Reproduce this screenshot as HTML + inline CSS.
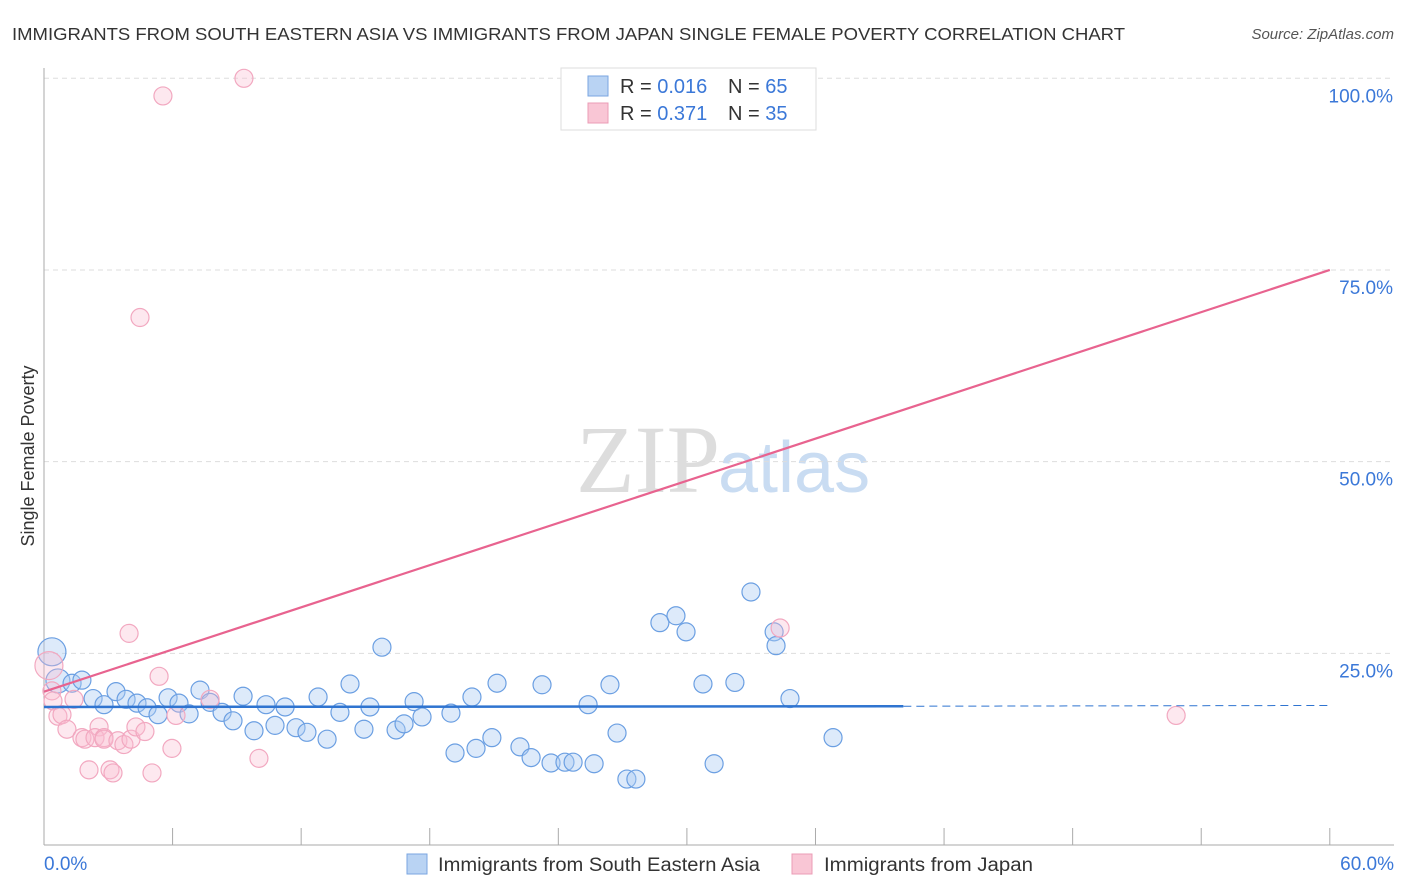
<!DOCTYPE html>
<html><head><meta charset="utf-8">
<style>
body{margin:0;background:#fff;font-family:"Liberation Sans",sans-serif;}
#wrap{position:relative;width:1406px;height:892px;overflow:hidden;}
</style></head>
<body>
<div id="wrap">
<svg id="svg" width="1406" height="892" xmlns="http://www.w3.org/2000/svg">
<text x="12" y="40" font-size="17.5" fill="#333" textLength="1113" lengthAdjust="spacingAndGlyphs">IMMIGRANTS FROM SOUTH EASTERN ASIA VS IMMIGRANTS FROM JAPAN SINGLE FEMALE POVERTY CORRELATION CHART</text>
<text x="1394" y="39" font-size="15" fill="#555" font-style="italic" text-anchor="end">Source: ZipAtlas.com</text>
<text x="720" y="492" font-size="96" fill="#ddd" text-anchor="end" font-family="Liberation Serif,serif">ZIP</text>
<text x="718" y="492" font-size="72" fill="#c9dcf2">atlas</text>
<text transform="translate(34,456) rotate(-90)" font-size="18" fill="#333" text-anchor="middle">Single Female Poverty</text>
<g id="grid"></g><g id="axes"></g><g id="pts"></g><g id="lines"></g>
<g>
<rect x="561" y="68" width="255" height="62" fill="#fff" stroke="#ddd"/>
<rect x="588" y="76" width="20" height="20" fill="#b9d3f3" stroke="#7aa6e0"/>
<rect x="588" y="103" width="20" height="20" fill="#f9c6d5" stroke="#eb9cb6"/>
<text x="620" y="93" font-size="20" fill="#333">R = <tspan fill="#3b78d8">0.016</tspan><tspan x="728">N = </tspan><tspan fill="#3b78d8">65</tspan></text>
<text x="620" y="120" font-size="20" fill="#333">R = <tspan fill="#3b78d8">0.371</tspan><tspan x="728">N = </tspan><tspan fill="#3b78d8">35</tspan></text>
</g>
<g>
<rect x="407" y="854" width="20" height="20" fill="#b9d3f3" stroke="#7aa6e0"/>
<text x="438" y="871" font-size="19" fill="#333" textLength="322" lengthAdjust="spacingAndGlyphs">Immigrants from South Eastern Asia</text>
<rect x="792" y="854" width="20" height="20" fill="#f9c6d5" stroke="#eb9cb6"/>
<text x="824" y="871" font-size="19" fill="#333" textLength="209" lengthAdjust="spacingAndGlyphs">Immigrants from Japan</text>
</g>
</svg>
</div>
<script>
const xTicks=[0,60];
const yTicks=[25,50,75,100];
const seaX=[0.37,0.65,1.31,1.77,2.29,2.8,3.36,3.83,4.34,4.81,5.32,5.79,6.3,6.77,7.28,7.75,8.31,8.82,9.29,9.8,10.36,10.78,11.25,11.76,12.27,12.79,13.21,13.81,14.28,14.93,15.21,15.77,16.43,16.8,17.27,17.64,18.99,19.18,19.97,20.16,20.9,21.14,22.21,22.73,23.24,23.66,24.31,24.69,25.39,25.67,26.41,26.74,27.2,27.62,28.74,29.49,29.96,30.75,31.27,32.24,32.99,34.07,34.16,34.81,36.82];
const seaY=[25.2,21.4,21.1,21.5,19.1,18.3,20,19,18.5,17.9,17,19.2,18.5,17.1,20.2,18.6,17.3,16.2,19.4,14.9,18.3,15.6,18,15.3,14.7,19.3,13.8,17.3,21,15.1,18,25.8,15,15.8,18.7,16.7,17.2,12,19.3,12.6,14,21.1,12.8,11.4,20.9,10.7,10.8,10.8,18.3,10.6,20.9,14.6,8.6,8.6,29,29.9,27.8,21,10.6,21.2,33,27.8,26,19.1,14];
const jpX=[5.55,9.33,4.48,3.97,5.37,0.23,0.37,0.42,0.65,0.84,1.07,1.4,1.77,1.91,2.57,2.38,2.8,3.08,2.8,3.22,2.1,3.45,3.73,4.06,4.29,4.71,5.04,5.97,6.16,7.75,10.03,34.35,52.83,28.56,31.64];
const jpY=[97.7,100,68.8,27.6,22,23.4,20.1,18.8,16.8,17,15.1,19,14,13.8,15.4,14,14,9.8,13.8,9.4,9.8,13.6,13.1,13.8,15.4,14.8,9.4,12.6,16.9,19,11.3,28.3,16.9,100,100];
const sx=v=>44+v*21.43, sy=v=>845-v*7.667;
const NS='http://www.w3.org/2000/svg';
function mk(tag,attrs,parent){const e=document.createElementNS(NS,tag);for(const k in attrs)e.setAttribute(k,attrs[k]);document.getElementById(parent).appendChild(e);return e;}
yTicks.forEach(t=>{
 const l=mk('line',{x1:44,x2:1394,y1:sy(t),y2:sy(t),stroke:'#ddd','stroke-dasharray':'5,4'},'grid');
 
 
 const tx=mk('text',{x:1393,y:sy(t)+24,'font-size':19,fill:'#3b78d8','text-anchor':'end'},'grid');
 tx.textContent=t.toFixed(1)+'%';
 
 
});
mk('line',{x1:44,x2:44,y1:68,y2:845,stroke:'#aaa'},'axes');
mk('line',{x1:44,x2:1394,y1:845,y2:845,stroke:'#aaa'},'axes');
for(let i=0;i<=10;i++){mk('line',{x1:sx(i*6),x2:sx(i*6),y1:828,y2:845,stroke:'#aaa'},'axes');}
xTicks.forEach((t,i)=>{
 const tx=mk('text',{x:i==0?44:1394,y:870,'font-size':19,fill:'#3b78d8','text-anchor':i==0?'start':'end'},'axes');
 tx.textContent=t.toFixed(1)+'%';
 
 
});
seaX.forEach((x,i)=>{
 const c=mk('circle',{cx:sx(x),cy:sy(seaY[i]),r:i==0?14:(i==1?12:9),fill:'rgba(170,202,242,0.4)',stroke:'#6b9fe2','stroke-width':1.2},'pts');
 
 
});
jpX.forEach((x,i)=>{
 const c=mk('circle',{cx:sx(x),cy:sy(jpY[i]),r:i==5?14:9,fill:'rgba(250,190,208,0.35)',stroke:'#f2a8c0','stroke-width':1.2},'pts');
 
 
});
let l=mk('line',{x1:sx(0),y1:sy(18),x2:sx(40.1),y2:sy(18.1),stroke:'#2f74d0','stroke-width':2.5},'lines');


l=mk('line',{x1:sx(40.1),y1:sy(18.1),x2:sx(60),y2:sy(18.2),stroke:'#2f74d0','stroke-width':1,'stroke-dasharray':'8,5'},'lines');


l=mk('line',{x1:sx(0),y1:sy(20),x2:sx(60),y2:sy(75),stroke:'#e8638f','stroke-width':2.2},'lines');


</script>
</body></html>
